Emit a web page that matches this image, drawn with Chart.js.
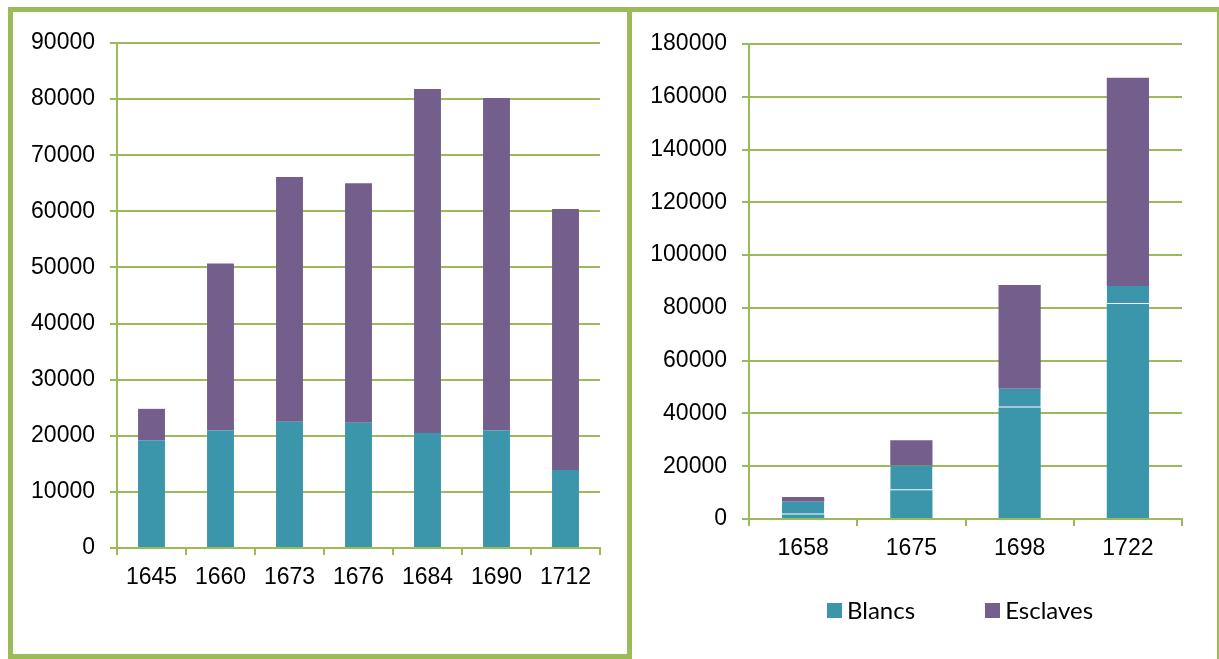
<!DOCTYPE html>
<html>
<head>
<meta charset="utf-8">
<script src="https://cdn.jsdelivr.net/npm/chart.js@4.4.1/dist/chart.umd.min.js"></script>
<style>
  body { margin: 0; background: #fff; width: 1219px; height: 659px; overflow: hidden; position: relative; }
  .panel { position: absolute; box-sizing: border-box; border: 0 solid #9BBB59; }
  #left-panel { left: 8px; top: 7px; width: 624px; height: 652px; border-width: 5px; }
  #right-panel { left: 632px; top: 7px; width: 587px; height: 660px; border-top-width: 5px; border-right-width: 2px; }
  canvas { position: absolute; }
  #left-chart { left: 13px; top: 12px; }
  #right-chart { left: 632px; top: 12px; }
  #right-legend { position: absolute; left: 827px; top: 597px; display: flex; gap: 70px;
                  font-family: Lato, "Open Sans", sans-serif; font-size: 24px; color: #000; line-height: 26px; }
  #right-legend .item { display: flex; align-items: center; }
  #right-legend .box { width: 15px; height: 15px; margin-right: 5px; }
</style>
</head>
<body>
<div class="panel" id="left-panel"></div>
<div class="panel" id="right-panel"></div>
<canvas id="left-chart" width="614" height="643"></canvas>
<canvas id="right-chart" width="585" height="647"></canvas>
<div id="right-legend"></div>
<script>
// left chart
const leftYears = ['1645', '1660', '1673', '1676', '1684', '1690', '1712'];
const leftBlancs = [19200, 21000, 22500, 22300, 20500, 21000, 13900];
const leftEsclaves = [5600, 29700, 43600, 42700, 61300, 59200, 46500];

// right chart
const rightYears = ['1658', '1675', '1698', '1722'];
const rightBlancs = [1700, 10900, 42300, 81500];
const rightBlancsHaut = [4800, 9400, 7100, 6800];
const rightEsclaves = [1800, 9500, 39300, 78900];

const green = '#9BBB59';
const teal = '#3B96AC';
const purple = '#745E8C';
const tickFont = { family: '"Liberation Sans", Arial, sans-serif', size: 23 };

function makeScales(max, step, yWidth, xHeight) {
    return {
        x: {
            stacked: true,
            grid: { drawOnChartArea: false, drawTicks: true, tickLength: 7, color: green, lineWidth: 2, offset: true },
            border: { color: green, width: 2 },
            ticks: { color: '#000', font: tickFont, padding: 9, maxRotation: 0 },
            afterFit: s => { s.height = xHeight; }
        },
        y: {
            stacked: true,
            min: 0,
            max: max,
            grid: { color: green, lineWidth: 2, tickLength: 7 },
            border: { color: green, width: 2 },
            ticks: { stepSize: step, color: '#000', font: tickFont, padding: 15, callback: v => String(v) },
            afterFit: s => { s.width = yWidth; }
        }
    };
}

new Chart(document.getElementById('left-chart'), {
    type: 'bar',
    data: {
        labels: leftYears,
        datasets: [
            { label: 'Blancs', data: leftBlancs, backgroundColor: teal, categoryPercentage: 1, barPercentage: 0.39 },
            { label: 'Esclaves', data: leftEsclaves, backgroundColor: purple, categoryPercentage: 1, barPercentage: 0.39 }
        ]
    },
    options: {
        responsive: false,
        animation: false,
        layout: { padding: { top: 31, right: 27, bottom: 0, left: 0 } },
        plugins: { legend: { display: false }, tooltip: { enabled: false } },
        scales: makeScales(90000, 10000, 104, 107)
    }
});

const rightChart = new Chart(document.getElementById('right-chart'), {
    type: 'bar',
    data: {
        labels: rightYears,
        datasets: [
            { label: 'Blancs', data: rightBlancs, backgroundColor: teal, categoryPercentage: 1, barPercentage: 0.39 },
            { label: 'Blancs (suite)', data: rightBlancsHaut, backgroundColor: teal,
              borderColor: 'rgba(255,255,255,0.22)', borderWidth: { top: 0, left: 0, right: 0, bottom: 1 },
              borderSkipped: false, categoryPercentage: 1, barPercentage: 0.39 },
            { label: 'Esclaves', data: rightEsclaves, backgroundColor: purple, categoryPercentage: 1, barPercentage: 0.39 }
        ]
    },
    options: {
        responsive: false,
        animation: false,
        layout: { padding: { top: 32, right: 35, bottom: 80, left: 0 } },
        plugins: { legend: { display: false }, tooltip: { enabled: false } },
        scales: makeScales(180000, 20000, 117, 60)
    }
});

// legend built from the chart's own datasets (the second teal piece is not listed)
const legendDiv = document.getElementById('right-legend');
rightChart.data.datasets.forEach((ds, i) => {
    if (i === 1) return;
    const item = document.createElement('div');
    item.className = 'item';
    item.innerHTML = `<span class="box" style="background:${ds.backgroundColor}"></span><span>${ds.label}</span>`;
    legendDiv.appendChild(item);
});
</script>
</body>
</html>
